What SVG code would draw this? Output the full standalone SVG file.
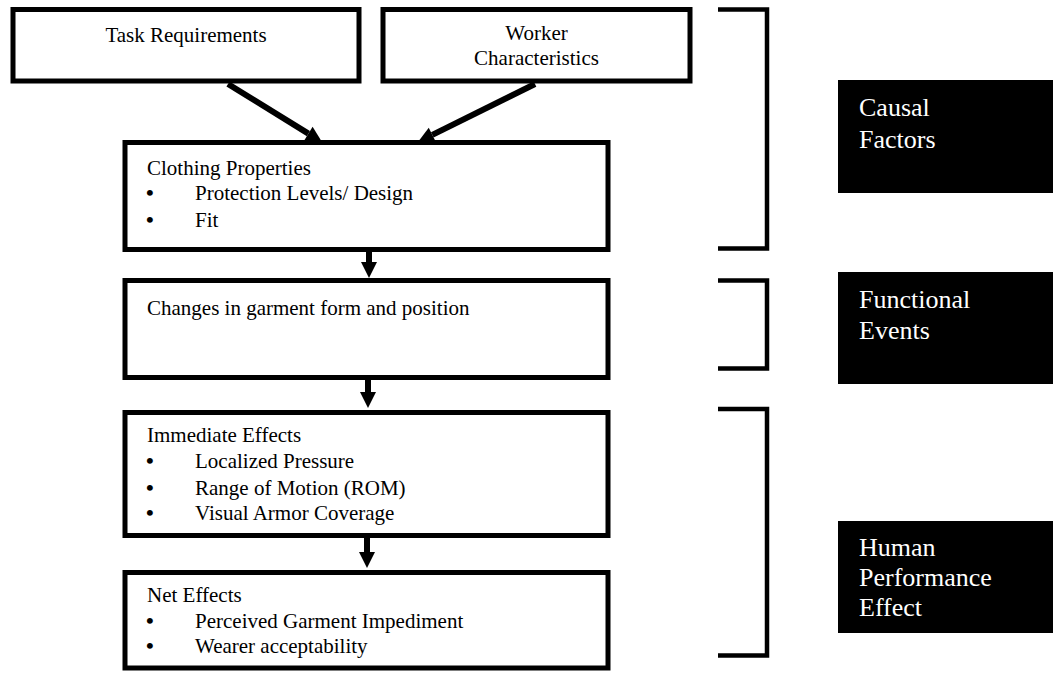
<svg xmlns="http://www.w3.org/2000/svg" width="1053" height="673" viewBox="0 0 1053 673">
<style>
.box{fill:#fff;stroke:#000;stroke-width:5}
.t{font-family:"Liberation Serif","Times New Roman",serif;font-size:21px;fill:#000}
.b{font-family:"Liberation Serif","Times New Roman",serif;font-size:22px;font-weight:bold;fill:#000}
.lab{fill:#000}
.lt{font-family:"Liberation Serif","Times New Roman",serif;font-size:26px;fill:#fff}
.br{fill:none;stroke:#000;stroke-width:4.5}
.conn{stroke:#000;stroke-width:6;fill:none}
</style>
<defs>
<marker id="ah" markerUnits="userSpaceOnUse" markerWidth="17" markerHeight="17" refX="0" refY="8" orient="auto" overflow="visible">
<path d="M0,0 L16,8 L0,16 Z" fill="#000"/>
</marker>
</defs>
<rect width="1053" height="673" fill="#fff"/>
<g id="task">
<rect class="box" x="13" y="9.5" width="346" height="71.5"/>
<text class="t" x="186" y="42" text-anchor="middle">Task Requirements</text>
</g>
<g id="worker">
<rect class="box" x="383" y="9.5" width="307" height="71.5"/>
<text class="t" x="536.5" y="40" text-anchor="middle">Worker</text>
<text class="t" x="536.5" y="65" text-anchor="middle">Characteristics</text>
</g>
<g id="clothing">
<rect class="box" x="125" y="142.5" width="483" height="107"/>
<text class="t" x="147" y="175">Clothing Properties</text>
<text class="b" x="146" y="200">•</text><text class="t" x="195" y="200">Protection Levels/ Design</text>
<text class="b" x="146" y="227">•</text><text class="t" x="195" y="227">Fit</text>
</g>
<g id="changes">
<rect class="box" x="125" y="280.5" width="483" height="97"/>
<text class="t" x="147" y="315">Changes in garment form and position</text>
</g>
<g id="immediate">
<rect class="box" x="125" y="412.5" width="483" height="123"/>
<text class="t" x="147" y="442">Immediate Effects</text>
<text class="b" x="146" y="468">•</text><text class="t" x="195" y="468">Localized Pressure</text>
<text class="b" x="146" y="495">•</text><text class="t" x="195" y="495">Range of Motion (ROM)</text>
<text class="b" x="146" y="520">•</text><text class="t" x="195" y="520">Visual Armor Coverage</text>
</g>
<g id="net">
<rect class="box" x="125" y="572.5" width="483" height="95.5"/>
<text class="t" x="147" y="602">Net Effects</text>
<text class="b" x="146" y="628">•</text><text class="t" x="195" y="628">Perceived Garment Impediment</text>
<text class="b" x="146" y="653">•</text><text class="t" x="195" y="653">Wearer acceptability</text>
</g>
<g id="causal">
<path class="br" d="M718,9.5 H767 V248.5 H718"/>
<rect class="lab" x="838" y="80" width="215" height="113"/>
<text class="lt" x="859" y="115.5">Causal</text>
<text class="lt" x="859" y="147.5">Factors</text>
</g>
<g id="functional">
<path class="br" d="M718,280.5 H767 V368.5 H718"/>
<rect class="lab" x="838" y="272" width="215" height="112"/>
<text class="lt" x="859" y="307.5">Functional</text>
<text class="lt" x="859" y="338.5">Events</text>
</g>
<g id="human">
<path class="br" d="M718,409 H767 V655.5 H718"/>
<rect class="lab" x="838" y="521" width="215" height="112"/>
<text class="lt" x="859" y="556">Human</text>
<text class="lt" x="859" y="586">Performance</text>
<text class="lt" x="859" y="616">Effect</text>
</g>
<g id="connectors">
<line class="conn" x1="228" y1="84" x2="308.4" y2="133.6" marker-end="url(#ah)"/>
<line class="conn" x1="535" y1="84" x2="432.3" y2="134.9" marker-end="url(#ah)"/>
<line class="conn" x1="369" y1="252" x2="369" y2="262" marker-end="url(#ah)"/>
<line class="conn" x1="368" y1="380" x2="368" y2="392" marker-end="url(#ah)"/>
<line class="conn" x1="367" y1="538" x2="367" y2="552" marker-end="url(#ah)"/>
</g>
</svg>
